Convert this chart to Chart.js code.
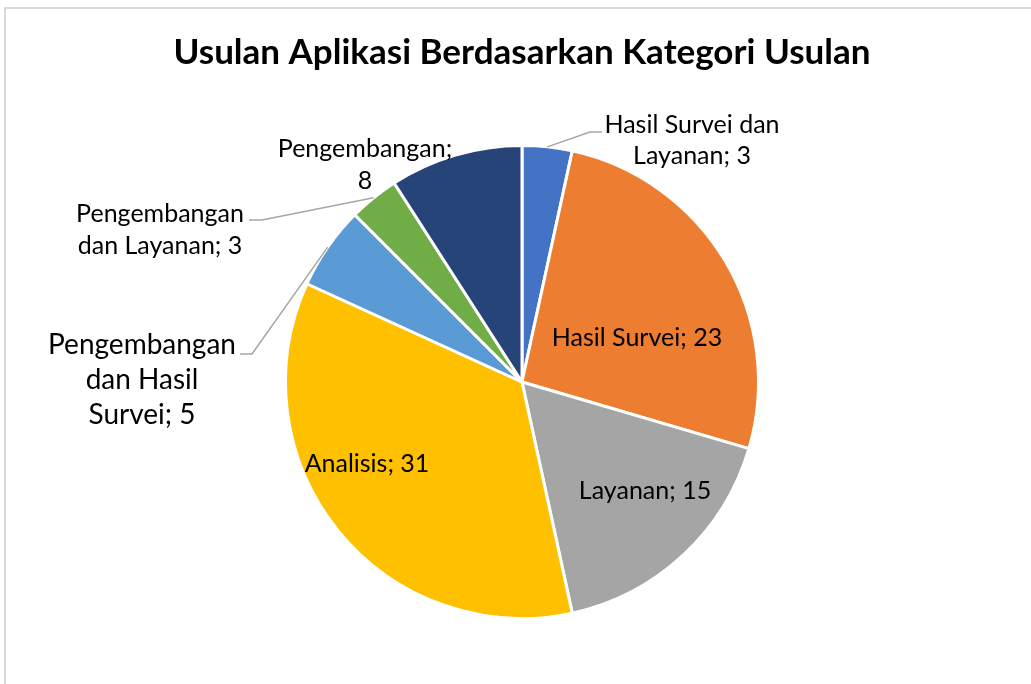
<!DOCTYPE html>
<html>
<head>
<meta charset="utf-8">
<title>Usulan Aplikasi Berdasarkan Kategori Usulan</title>
<script src="https://cdn.jsdelivr.net/npm/chart.js@4.4.1/dist/chart.umd.min.js"></script>
<style>
  html, body { margin: 0; padding: 0; background: #fff; }
  #wrap { position: relative; width: 1031px; height: 684px; overflow: hidden; }
  #frame {
    position: absolute; left: 4px; top: 7px; width: 1200px; height: 900px;
    border-left: 2px solid #d9d9d9; border-top: 2px solid #d9d9d9;
  }
  canvas { position: absolute; left: 0; top: 0; }
</style>
</head>
<body>
<div id="wrap">
  <div id="frame"></div>
  <canvas id="usulanChart" width="1031" height="684"></canvas>
</div>
<script>
"use strict";

const chartTitle = "Usulan Aplikasi Berdasarkan Kategori Usulan";

const kategori = [
  "Hasil Survei dan Layanan",
  "Hasil Survei",
  "Layanan",
  "Analisis",
  "Pengembangan dan Hasil Survei",
  "Pengembangan dan Layanan",
  "Pengembangan"
];
const jumlah = [3, 23, 15, 31, 5, 3, 8];
const warna = ["#4472C4", "#ED7D31", "#A5A5A5", "#FFC000", "#5B9BD5", "#70AD47", "#264478"];

// where each data label sits (centre x, first baseline), wrap width, font size,
// and for the outside ones the elbow/end of the leader line
const labelPos = [
  { x: 692, y: 133, wrap: 185, size: 25, lh: 31, leader: [[590, 132], [602, 132]] },
  { x: 637, y: 346, wrap: 400, size: 25, lh: 31 },
  { x: 645, y: 499, wrap: 400, size: 25, lh: 31 },
  { x: 367, y: 472, wrap: 400, size: 25, lh: 31 },
  { x: 142, y: 354, wrap: 150, size: 28, lh: 35, leader: [[252, 354], [240, 354]] },
  { x: 160, y: 222, wrap: 180, size: 25, lh: 32, leader: [[262, 220], [249, 220]] },
  { x: 365, y: 157, wrap: 176, size: 25, lh: 32 }
];

const FONT = "Lato, 'Open Sans', sans-serif";

function wrapText(ctx, text, maxWidth) {
  const words = text.split(" ");
  const lines = [];
  let line = "";
  words.forEach(w => {
    const test = line ? line + " " + w : w;
    if (line && ctx.measureText(test).width > maxWidth) {
      lines.push(line);
      line = w;
    } else {
      line = test;
    }
  });
  if (line) lines.push(line);
  return lines;
}

const pieLabels = {
  id: "pieLabels",
  afterDraw(chart) {
    const ctx = chart.ctx;
    ctx.save();

    // title
    ctx.fillStyle = "#000";
    ctx.font = "bold 35px " + FONT;
    ctx.textAlign = "center";
    ctx.textBaseline = "alphabetic";
    ctx.fillText(chartTitle, 522, 64);

    const arcs = chart.getDatasetMeta(0).data;
    arcs.forEach((arc, i) => {
      const pos = labelPos[i];
      const p = arc.getProps(["x", "y", "startAngle", "endAngle", "outerRadius"], true);

      if (pos.leader) {
        const mid = (p.startAngle + p.endAngle) / 2;
        const sx = p.x + Math.cos(mid) * p.outerRadius;
        const sy = p.y + Math.sin(mid) * p.outerRadius;
        ctx.strokeStyle = "#a6a6a6";
        ctx.lineWidth = 1.5;
        ctx.beginPath();
        ctx.moveTo(sx, sy);
        pos.leader.forEach(pt => ctx.lineTo(pt[0], pt[1]));
        ctx.stroke();
      }

      ctx.font = pos.size + "px " + FONT;
      ctx.fillStyle = "#000";
      ctx.textAlign = "center";
      const text = kategori[i] + "; " + jumlah[i];
      wrapText(ctx, text, pos.wrap).forEach((ln, k) => {
        ctx.fillText(ln, pos.x, pos.y + k * pos.lh);
      });
    });
    ctx.restore();
  }
};

new Chart(document.getElementById("usulanChart"), {
  type: "pie",
  data: {
    labels: kategori,
    datasets: [{
      data: jumlah,
      backgroundColor: warna,
      borderColor: "#ffffff",
      borderWidth: 3,
      hoverBorderWidth: 3,
      hoverOffset: 0
    }]
  },
  options: {
    responsive: false,
    animation: false,
    events: [],
    layout: { padding: { top: 144, bottom: 64, left: 284, right: 271 } },
    plugins: {
      legend: { display: false },
      title: { display: false },
      tooltip: { enabled: false }
    }
  },
  plugins: [pieLabels]
});
</script>
</body>
</html>
